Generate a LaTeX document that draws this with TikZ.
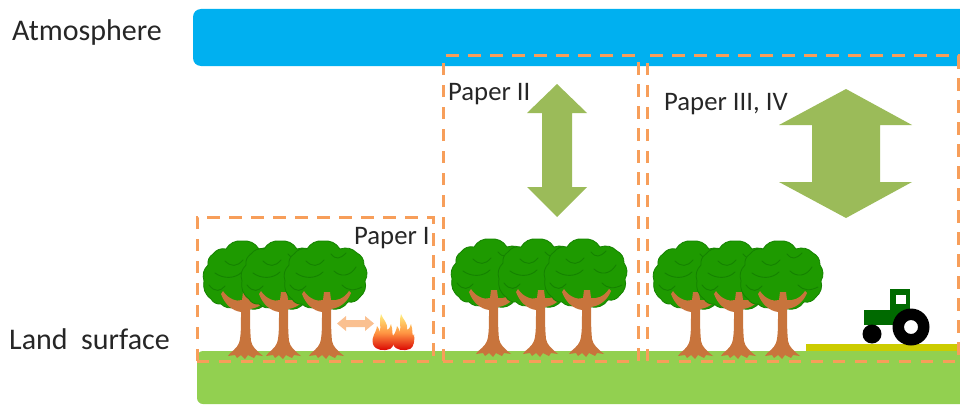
\documentclass[tikz,border=0pt]{standalone}
\usepackage{fontspec}
\setmainfont{Carlito}
\definecolor{atm}{HTML}{00B0F0}
\definecolor{land}{HTML}{92D050}
\definecolor{dashc}{HTML}{F79E5A}
\definecolor{arrowc}{HTML}{9BBB59}
\definecolor{small}{HTML}{FAC090}
\definecolor{trunkc}{HTML}{C8743C}
\definecolor{leaf}{HTML}{1E9A00}
\definecolor{leafd}{HTML}{158200}
\definecolor{strip}{HTML}{CCCC00}
\definecolor{tract}{HTML}{006A00}
\tikzset{
 x=1pt,y=-1pt,
 paper/.style={draw=dashc,line width=3pt,dash pattern=on 12.5pt off 9.5pt},
 lbl/.style={font=\fontsize{30}{32}\selectfont,text=black!85,inner sep=0pt,anchor=west},
 plbl/.style={font=\fontsize{26.7}{29}\selectfont,text=black!85,inner sep=0pt,anchor=west},
 bigarrow/.style={fill=arrowc,draw=none},
 sc/.style={bend left=32},
 pics/tree/.style={code={
  % canopy
  \filldraw[fill=leaf,draw=leafd,line width=0.8pt,line join=round]
    (-41,-76) to[sc] (-37,-92) to[sc] (-32,-103) to[sc] (-19,-108) to[sc] (-3,-116) to[sc] (14,-108)
    to[sc] (31,-104) to[sc] (38,-92) to[sc] (39,-76) to[sc] (34,-60) to[sc] (22,-55) to[sc] (5,-48)
    to[sc] (-10,-50) to[sc] (-24,-53) to[sc] (-34,-58) to[sc] (-41,-76) -- cycle;
  \draw[leafd,line width=0.9pt,line cap=round]
    (-20,-96) .. controls (-14,-90) and (-8,-90) .. (-2,-97)
    (-30,-84) .. controls (-22,-78) and (-10,-78) .. (-3,-85)
    (8,-86) .. controls (14,-80) and (24,-80) .. (30,-90)
    (-36,-72) .. controls (-30,-64) and (-24,-66) .. (-20,-71)
    (5,-103) .. controls (10,-97) and (14,-98) .. (20,-104)
    (16,-72) .. controls (22,-66) and (28,-66) .. (36,-70);
  % trunk
  \fill[trunkc] (-2,-65) -- (-3,-57) .. controls (-8,-55) and (-17,-58) .. (-22,-66) -- (-24,-63)
    .. controls (-20,-52) and (-12,-46) .. (-4,-45)
    .. controls (-4,-30) and (-4,-20) .. (-6,-14) .. controls (-8,-8) and (-15,-5) .. (-17,-1) -- (-10,-2) -- (-8,1) -- (-4,-2) -- (0,2) -- (3,-2) -- (9,1) -- (11,-2) -- (18,-1)
    .. controls (12,-6) and (7,-10) .. (6,-16) .. controls (5,-26) and (5,-38) .. (5,-48) .. controls (13,-49) and (21,-54) .. (25,-64) -- (23,-66)
    .. controls (18,-58) and (10,-56) .. (5,-57) -- (4,-65) -- cycle;
 }},
 pics/flame/.style={code={
  \shade[top color=orange!25!yellow!50,bottom color=red!85!black,middle color=orange!65!pink]
   (-10,-6) .. controls (-12,-14) and (-7,-16) .. (-6,-24) .. controls (-4,-22) and (-4,-20) .. (-3,-18)
   .. controls (-2,-24) and (-4,-30) .. (-2,-36) .. controls (0,-30) and (5,-28) .. (4,-20)
   .. controls (6,-20) and (7,-23) .. (8,-26) .. controls (10,-20) and (9,-16) .. (10,-14) -- (11,-16)
   .. controls (12,-10) and (11,-3) .. (7,-1) .. controls (2,1) and (-8,1) .. (-10,-6) -- cycle;
 }}
}
\begin{document}
\begin{tikzpicture}
\useasboundingbox (0,0) rectangle (960,404);
% bands
\fill[atm,rounded corners=8pt] (193,9) rectangle (975,66);
\fill[land,rounded corners=6pt] (197,351) rectangle (975,404);
\fill[strip] (806,344) rectangle (958,351);
% trees
\foreach \tx in {245,283,326} \pic at (\tx,357) {tree};
\foreach \tx in {493,540,586} \pic at (\tx,355) {tree};
\foreach \tx in {695,738,782} \pic at (\tx,357) {tree};
% fire
\pic at (383,350) {flame};
\pic at (403,350) {flame};
% small arrow
\fill[small] (337,323.5) -- (346,316) -- (346,320) -- (365,320) -- (365,316) -- (374,323.5) -- (365,331) -- (365,327) -- (346,327) -- (346,331) -- cycle;
% large arrows
\fill[bigarrow] (557,84) -- (587,113) -- (572,113) -- (572,187) -- (587,187) -- (557,217) -- (527,187) -- (542,187) -- (542,113) -- (527,113) -- cycle;
\fill[bigarrow] (846,89) -- (912,125) -- (880,125) -- (880,182) -- (912,182) -- (846,218) -- (779,182) -- (812,182) -- (812,125) -- (779,125) -- cycle;
% tractor
\fill[tract] (864,310) rectangle (902,325);
\fill[tract] (890,289) rectangle (910,320);
\fill[white] (896,295) rectangle (906,304);
\fill[black,even odd rule] (911,327) circle (18.5) (911,327) circle (7);
\fill[black] (872,334) circle (9.5);
% dashed frames
\draw[paper] (197,361) -- (197,217) -- (433,217) -- (433,361) -- cycle;
\draw[paper] (443,361) -- (443,56) -- (638,56) -- (638,361) -- cycle;
\draw[paper] (647,361) -- (647,56) -- (958,56) -- (958,361) -- cycle;
% labels
\node[lbl] (atmlabel) at (12,33) {Atmosphere};
\node[lbl] (landlabel) at (9,339) {Land\ \ surface};
\node[plbl] (p1) at (354,238) {Paper I};
\node[plbl] (p2) at (448,94) {Paper II};
\node[plbl] (p3) at (664,104) {Paper III, IV};
\end{tikzpicture}
\end{document}
